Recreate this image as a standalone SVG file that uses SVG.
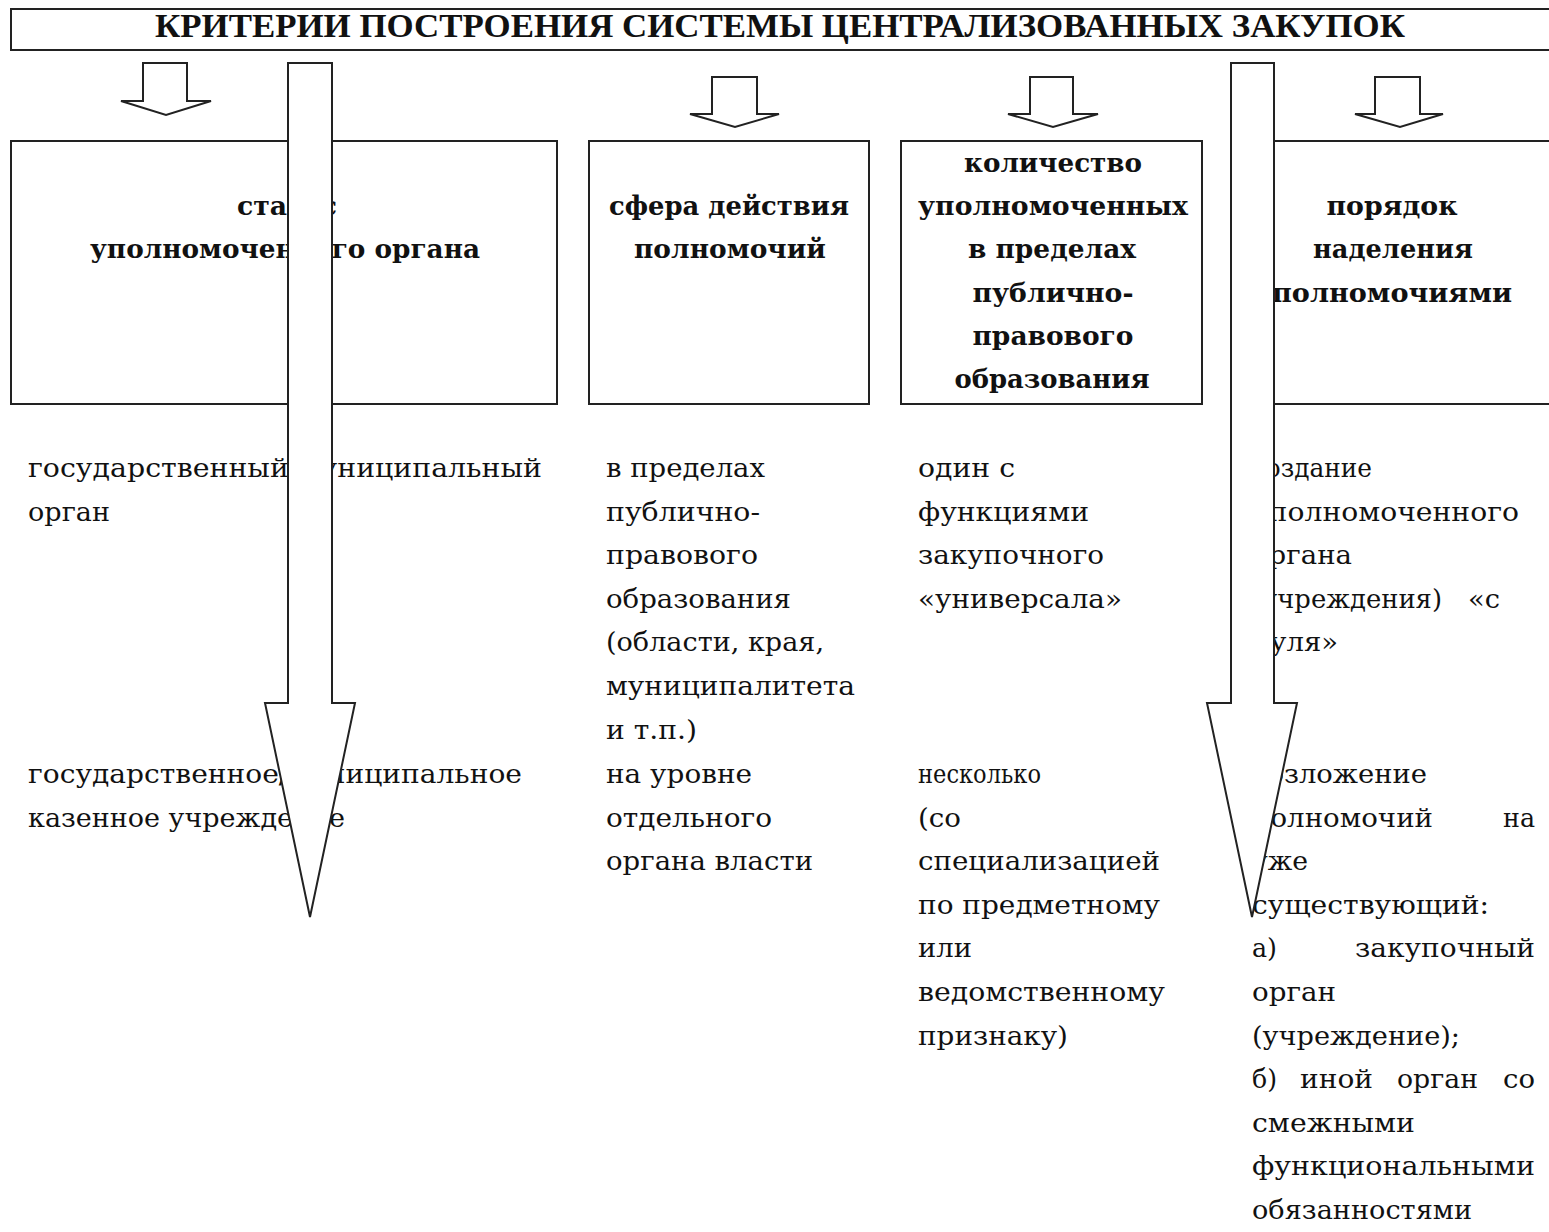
<svg xmlns="http://www.w3.org/2000/svg" width="1549" height="1232" viewBox="0 0 1549 1232">
<style>
.frame{fill:#fff;stroke:#222;stroke-width:2}
.title{font-family:"Liberation Serif","Times New Roman",serif;font-weight:bold;font-size:33px;fill:#111}
.hd{font-family:"DejaVu Serif","Liberation Serif",serif;font-weight:bold;font-size:26px;fill:#111;text-anchor:middle}
.tx{font-family:"DejaVu Serif","Liberation Serif",serif;font-size:26px;fill:#111}
.arrow{fill:#fff;stroke:#222;stroke-width:2;stroke-linejoin:miter}
</style>
<rect x="0" y="0" width="1549" height="1232" fill="#fff"/>

<g id="header">
<rect class="frame" x="11" y="9" width="1560" height="41"/>
<text class="title" x="155" y="37" textLength="1250" lengthAdjust="spacingAndGlyphs">КРИТЕРИИ ПОСТРОЕНИЯ СИСТЕМЫ ЦЕНТРАЛИЗОВАННЫХ ЗАКУПОК</text>
</g>

<g id="box-status">
<rect class="frame" x="11" y="141" width="546" height="263"/>
<text class="hd" x="287" y="215" textLength="100" lengthAdjust="spacingAndGlyphs">статус</text>
<text class="hd" x="285" y="258" textLength="390" lengthAdjust="spacingAndGlyphs">уполномоченного органа</text>
</g>

<g id="box-sphere">
<rect class="frame" x="589" y="141" width="280" height="263"/>
<text class="hd" x="729" y="215" textLength="240" lengthAdjust="spacingAndGlyphs">сфера действия</text>
<text class="hd" x="730" y="258" textLength="192" lengthAdjust="spacingAndGlyphs">полномочий</text>
</g>

<g id="box-count">
<rect class="frame" x="901" y="141" width="301" height="263"/>
<text class="hd" x="1053" y="172" textLength="178" lengthAdjust="spacingAndGlyphs">количество</text>
<text class="hd" x="1053" y="215" textLength="270" lengthAdjust="spacingAndGlyphs">уполномоченных</text>
<text class="hd" x="1052" y="258" textLength="168" lengthAdjust="spacingAndGlyphs">в пределах</text>
<text class="hd" x="1053" y="302" textLength="161" lengthAdjust="spacingAndGlyphs">публично-</text>
<text class="hd" x="1053" y="345" textLength="161" lengthAdjust="spacingAndGlyphs">правового</text>
<text class="hd" x="1052" y="388" textLength="195" lengthAdjust="spacingAndGlyphs">образования</text>
</g>

<g id="box-order">
<rect class="frame" x="1250" y="141" width="320" height="263"/>
<text class="hd" x="1392" y="215" textLength="131" lengthAdjust="spacingAndGlyphs">порядок</text>
<text class="hd" x="1393" y="258" textLength="160" lengthAdjust="spacingAndGlyphs">наделения</text>
<text class="hd" x="1392" y="302" textLength="240" lengthAdjust="spacingAndGlyphs">полномочиями</text>
</g>

<g id="col-status-items">
<text class="tx" x="28" y="477" textLength="514" lengthAdjust="spacingAndGlyphs">государственный/муниципальный</text>
<text class="tx" x="28" y="521" textLength="82" lengthAdjust="spacingAndGlyphs">орган</text>
<text class="tx" x="28" y="783" textLength="494" lengthAdjust="spacingAndGlyphs">государственное/муниципальное</text>
<text class="tx" x="28" y="827" textLength="317" lengthAdjust="spacingAndGlyphs">казенное учреждение</text>
</g>

<g id="col-sphere-items">
<text class="tx" x="606" y="477" textLength="159" lengthAdjust="spacingAndGlyphs">в пределах</text>
<text class="tx" x="606" y="521" textLength="154" lengthAdjust="spacingAndGlyphs">публично-</text>
<text class="tx" x="606" y="564" textLength="152" lengthAdjust="spacingAndGlyphs">правового</text>
<text class="tx" x="606" y="608" textLength="185" lengthAdjust="spacingAndGlyphs">образования</text>
<text class="tx" x="606" y="651" textLength="218" lengthAdjust="spacingAndGlyphs">(области, края,</text>
<text class="tx" x="606" y="695" textLength="249" lengthAdjust="spacingAndGlyphs">муниципалитета</text>
<text class="tx" x="606" y="739" textLength="91" lengthAdjust="spacingAndGlyphs">и т.п.)</text>
<text class="tx" x="606" y="783" textLength="146" lengthAdjust="spacingAndGlyphs">на уровне</text>
<text class="tx" x="606" y="827" textLength="166" lengthAdjust="spacingAndGlyphs">отдельного</text>
<text class="tx" x="606" y="870" textLength="207" lengthAdjust="spacingAndGlyphs">органа власти</text>
</g>

<g id="col-count-items">
<text class="tx" x="918" y="477" textLength="97" lengthAdjust="spacingAndGlyphs">один с</text>
<text class="tx" x="918" y="521" textLength="171" lengthAdjust="spacingAndGlyphs">функциями</text>
<text class="tx" x="918" y="564" textLength="186" lengthAdjust="spacingAndGlyphs">закупочного</text>
<text class="tx" x="918" y="608" textLength="204" lengthAdjust="spacingAndGlyphs">«универсала»</text>
<text class="tx" x="918" y="783" textLength="123" lengthAdjust="spacingAndGlyphs">несколько</text>
<text class="tx" x="918" y="827" textLength="43" lengthAdjust="spacingAndGlyphs">(со</text>
<text class="tx" x="918" y="870" textLength="242" lengthAdjust="spacingAndGlyphs">специализацией</text>
<text class="tx" x="918" y="914" textLength="242" lengthAdjust="spacingAndGlyphs">по предметному</text>
<text class="tx" x="918" y="957" textLength="54" lengthAdjust="spacingAndGlyphs">или</text>
<text class="tx" x="918" y="1001" textLength="247" lengthAdjust="spacingAndGlyphs">ведомственному</text>
<text class="tx" x="918" y="1045" textLength="150" lengthAdjust="spacingAndGlyphs">признаку)</text>
</g>

<g id="col-order-items">
<text class="tx" x="1252" y="477" textLength="120" lengthAdjust="spacingAndGlyphs">создание</text>
<text class="tx" x="1252" y="521" textLength="267" lengthAdjust="spacingAndGlyphs">уполномоченного</text>
<text class="tx" x="1252" y="564" textLength="100" lengthAdjust="spacingAndGlyphs">органа</text>
<text class="tx" x="1252" y="608" textLength="190" lengthAdjust="spacingAndGlyphs">(учреждения)</text>
<text class="tx" x="1468" y="608" textLength="32" lengthAdjust="spacingAndGlyphs">«с</text>
<text class="tx" x="1252" y="651" textLength="86" lengthAdjust="spacingAndGlyphs">нуля»</text>
<text class="tx" x="1252" y="783" textLength="175" lengthAdjust="spacingAndGlyphs">возложение</text>
<text class="tx" x="1252" y="827" textLength="181" lengthAdjust="spacingAndGlyphs">полномочий</text>
<text class="tx" x="1503" y="827" textLength="32" lengthAdjust="spacingAndGlyphs">на</text>
<text class="tx" x="1252" y="870" textLength="56" lengthAdjust="spacingAndGlyphs">уже</text>
<text class="tx" x="1252" y="914" textLength="237" lengthAdjust="spacingAndGlyphs">существующий:</text>
<text class="tx" x="1252" y="957" textLength="25" lengthAdjust="spacingAndGlyphs">а)</text>
<text class="tx" x="1355" y="957" textLength="180" lengthAdjust="spacingAndGlyphs">закупочный</text>
<text class="tx" x="1252" y="1001" textLength="84" lengthAdjust="spacingAndGlyphs">орган</text>
<text class="tx" x="1252" y="1045" textLength="208" lengthAdjust="spacingAndGlyphs">(учреждение);</text>
<text class="tx" x="1252" y="1088" textLength="25" lengthAdjust="spacingAndGlyphs">б)</text>
<text class="tx" x="1300" y="1088" textLength="73" lengthAdjust="spacingAndGlyphs">иной</text>
<text class="tx" x="1397" y="1088" textLength="81" lengthAdjust="spacingAndGlyphs">орган</text>
<text class="tx" x="1503" y="1088" textLength="32" lengthAdjust="spacingAndGlyphs">со</text>
<text class="tx" x="1252" y="1132" textLength="163" lengthAdjust="spacingAndGlyphs">смежными</text>
<text class="tx" x="1252" y="1175" textLength="283" lengthAdjust="spacingAndGlyphs">функциональными</text>
<text class="tx" x="1252" y="1219" textLength="220" lengthAdjust="spacingAndGlyphs">обязанностями</text>
</g>

<g id="connectors">
<polygon class="arrow" points="143,63 187,63 187,101 211,101 166,115 121,101 143,101"/>
<polygon class="arrow" points="712,77 757,77 757,114 779,114 735,127 690,114 712,114"/>
<polygon class="arrow" points="1030,77 1073,77 1073,114 1098,114 1053,127 1008,114 1030,114"/>
<polygon class="arrow" points="1375,77 1420,77 1420,114 1443,114 1400,127 1355,114 1375,114"/>
<polygon class="arrow" points="288,63 332,63 332,703 355,703 310,917 265,703 288,703"/>
<polygon class="arrow" points="1231,63 1274,63 1274,703 1297,703 1252,917 1207,703 1231,703"/>
</g>
</svg>
